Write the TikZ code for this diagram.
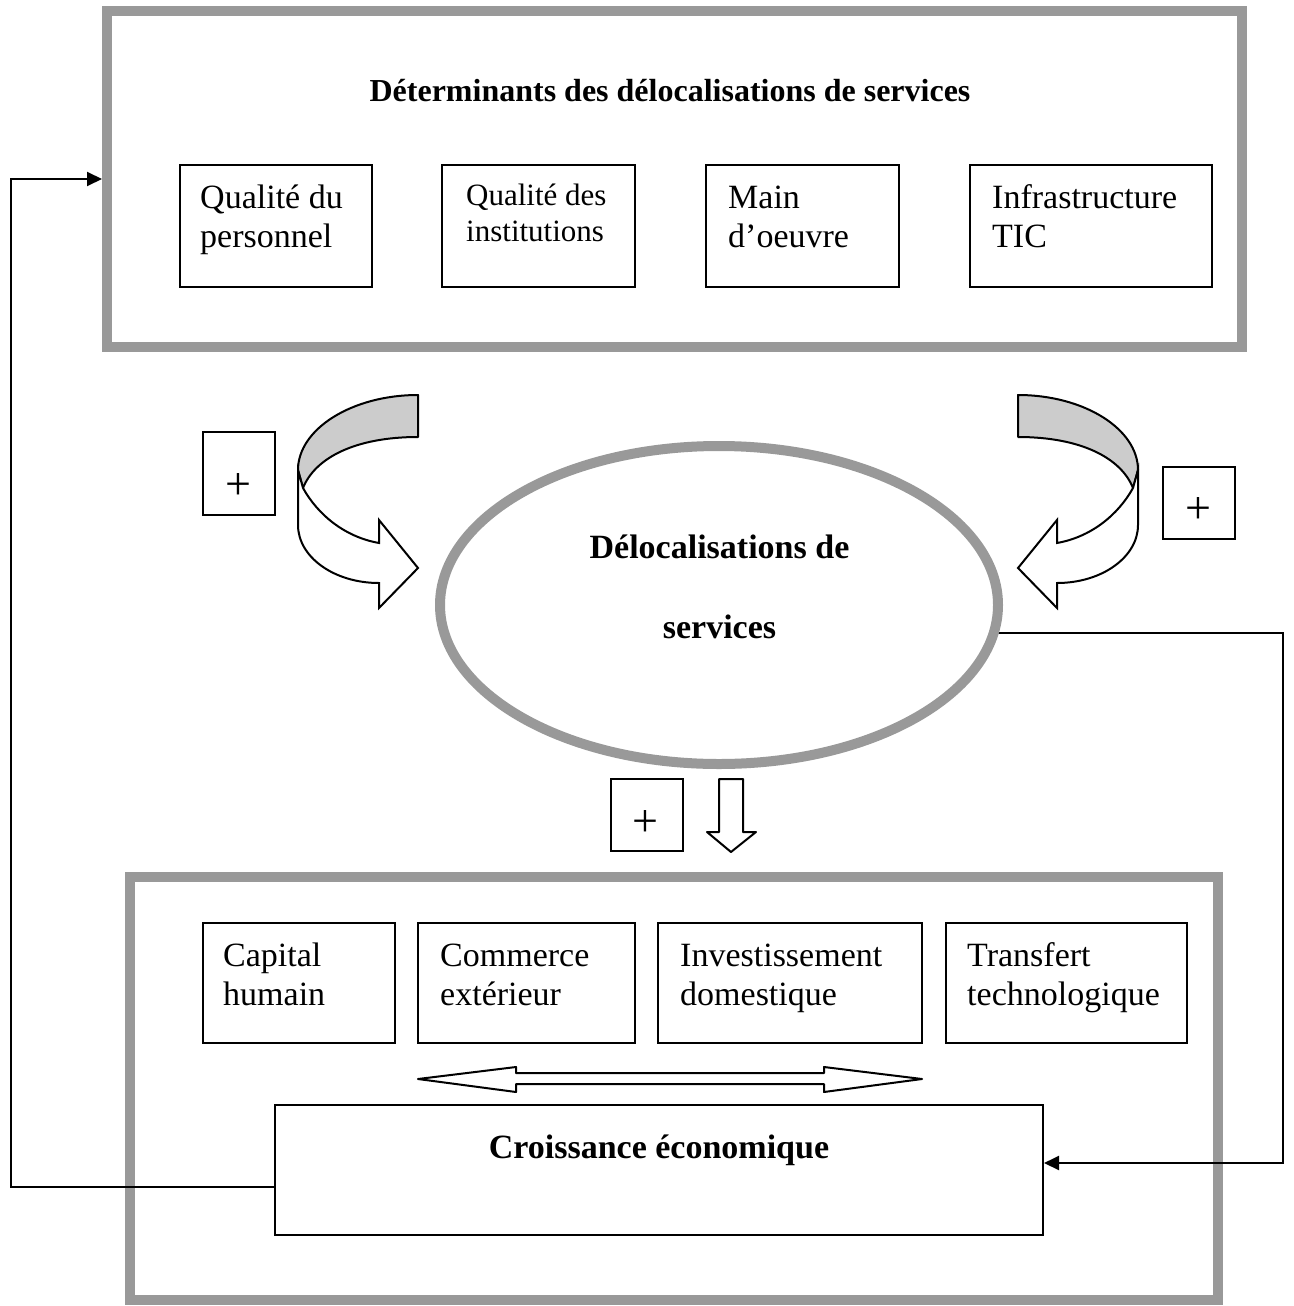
\documentclass[tikz,border=0pt]{standalone}
\usepackage{fontspec}
\setmainfont{Liberation Serif}
\usetikzlibrary{arrows.meta,shapes.geometric}
\definecolor{framegray}{HTML}{999999}
\definecolor{ribbongray}{HTML}{CCCCCC}
\tikzset{
  frame/.style={draw=framegray, line width=10pt, rectangle, inner sep=0pt},
  itembox/.style={draw=black, line width=2pt, rectangle, inner sep=0pt},
  itemtext/.style={anchor=base west, align=left, inner sep=0pt, font=\fontsize{34}{39}\selectfont},
  smalltext/.style={anchor=base west, align=left, inner sep=0pt, font=\fontsize{31}{36}\selectfont},
  headtext/.style={anchor=base, inner sep=0pt, font=\bfseries\fontsize{34}{40}\selectfont},
  plusbox/.style={draw=black, line width=2pt, rectangle, inner sep=0pt, minimum width=72pt},
  plussign/.style={inner sep=0pt, font=\fontsize{46}{50}\selectfont},
  link/.style={draw=black, line width=2pt, -{Triangle[length=15pt,width=14pt]}},
  hollow/.style={draw=black, line width=2pt, fill=white, line join=round},
  ribbonback/.style={draw=black, line width=2pt, fill=ribbongray, line join=round},
  ribbonfront/.style={draw=black, line width=2pt, fill=white, line join=miter},
}
\begin{document}
\begin{tikzpicture}[x=1pt, y=-1pt]
\useasboundingbox (0,0) rectangle (1293,1306);

% frames, central ellipse and growth box
\node[frame, minimum width=1135pt, minimum height=336pt] (top) at (674.5,179) {};
\node[frame, minimum width=1088pt, minimum height=423pt] (bottom) at (674,1088.5) {};
\node[itembox, minimum width=768pt, minimum height=130pt] (cr) at (659,1170) {};
\node[ellipse, inner sep=0pt, outer sep=0pt, minimum width=558pt, minimum height=318pt] (el) at (719,605) {};

% feedback loops
\draw[link] ([yshift=-17pt]cr.west) -- ++(-263,0) |- (top.west);
\draw[link] ([shift={(-5pt,-28pt)}]el.east) -- ++(290,0) |- ([yshift=7pt]cr.east);

\draw[draw=framegray, line width=10pt] (el.center) ellipse [x radius=279, y radius=159];

% determinants
\node[headtext, font=\bfseries\fontsize{32}{38}\selectfont] (toptitle) at (670,101)
  {Déterminants des délocalisations de services};
\node[itembox, minimum width=192pt, minimum height=122pt] (d1) at (276,226) {};
\node[itembox, minimum width=193pt, minimum height=122pt] (d2) at (538.5,226) {};
\node[itembox, minimum width=193pt, minimum height=122pt] (d3) at (802.5,226) {};
\node[itembox, minimum width=242pt, minimum height=122pt] (d4) at (1091,226) {};
\node[itemtext] (d1t) at (200,247) {Qualité du\\personnel};
\node[smalltext] (d2t) at (466,241) {Qualité des\\institutions};
\node[itemtext] (d3t) at (728,247) {Main\\d’oeuvre};
\node[itemtext] (d4t) at (992,247) {Infrastructure\\TIC};

% curved arrows into the ellipse
\path[ribbonback] (418,395) .. controls (352,395) and (298,429) .. (298,470)
  -- (303,488) .. controls (315,458) and (355,437) .. (418,437) -- cycle;
\path[ribbonfront] (303,488) .. controls (318,515) and (345,537) .. (379,543)
  -- (379,520) -- (418,568) -- (379,608) -- (379,583)
  .. controls (334,583) and (298,557) .. (298,525) -- (298,470) -- cycle;
\path[ribbonback] (1018,395) .. controls (1084,395) and (1138,429) .. (1138,470)
  -- (1133,488) .. controls (1121,458) and (1081,437) .. (1018,437) -- cycle;
\path[ribbonfront] (1133,488) .. controls (1118,515) and (1091,537) .. (1057,543)
  -- (1057,520) -- (1018,568) -- (1057,608) -- (1057,583)
  .. controls (1102,583) and (1138,557) .. (1138,525) -- (1138,470) -- cycle;

% plus signs
\node[plusbox, minimum height=83pt] (pl) at (239,473.5) {};
\node[plussign] (plt) at (238,487) {+};
\node[plusbox, minimum height=72pt] (pr) at (1199,503) {};
\node[plussign] (prt) at (1198,511) {+};
\node[plusbox, minimum height=72pt] (pb) at (647,815) {};
\node[plussign] (pbt) at (645,823) {+};

% ellipse label
\node[headtext] (elt1) at (719.5,558) {Délocalisations de};
\node[headtext] (elt2) at (719.5,638) {services};

% hollow down arrow
\path[hollow] (719,779) -- (743,779) -- (743,832) -- (756,832) -- (731,852)
  -- (707,832) -- (719,832) -- cycle;

% growth channels
\node[itembox, minimum width=192pt, minimum height=120pt] (c1) at (299,983) {};
\node[itembox, minimum width=217pt, minimum height=120pt] (c2) at (526.5,983) {};
\node[itembox, minimum width=264pt, minimum height=120pt] (c3) at (790,983) {};
\node[itembox, minimum width=241pt, minimum height=120pt] (c4) at (1066.5,983) {};
\node[itemtext] (c1t) at (223,1005) {Capital\\humain};
\node[itemtext] (c2t) at (440,1005) {Commerce\\extérieur};
\node[itemtext] (c3t) at (680,1005) {Investissement\\domestique};
\node[itemtext] (c4t) at (967,1005) {Transfert\\technologique};

% hollow double arrow
\path[hollow] (418,1079) -- (516,1067) -- (516,1073) -- (824,1073) -- (824,1067)
  -- (922,1079) -- (824,1092) -- (824,1084) -- (516,1084) -- (516,1092) -- cycle;

\node[headtext] (crt) at (659,1158) {Croissance économique};
\end{tikzpicture}
\end{document}
